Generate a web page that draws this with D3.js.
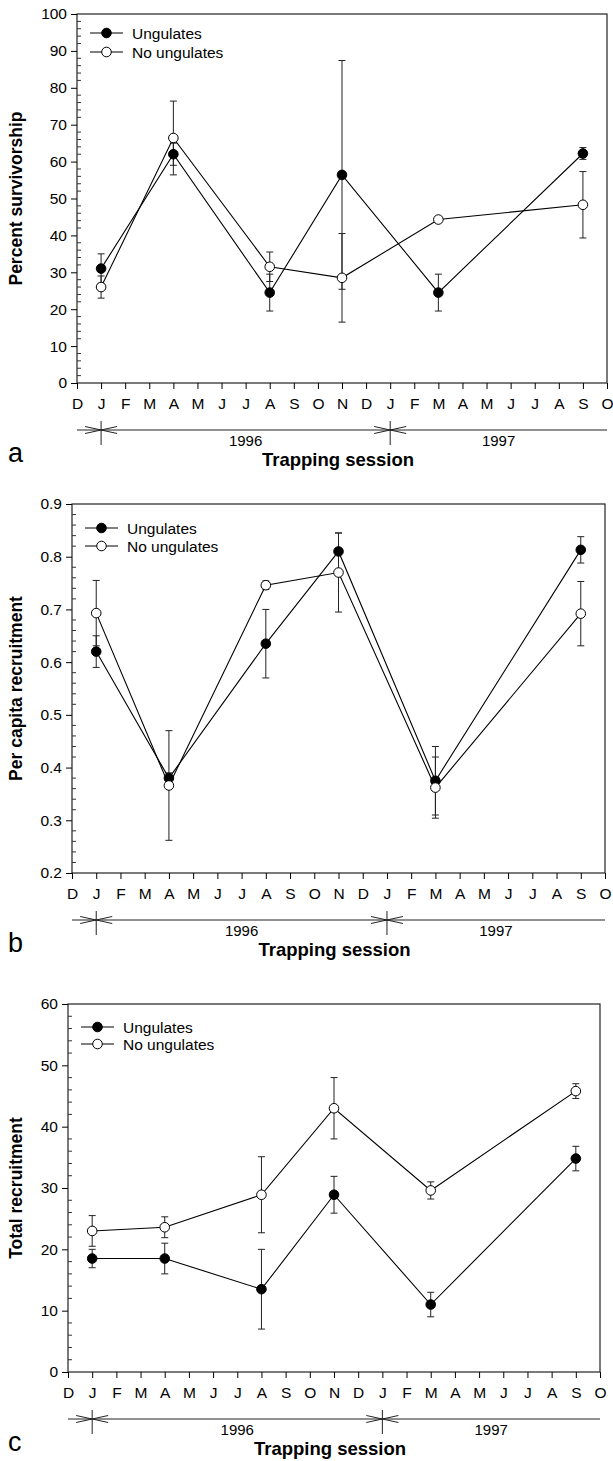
<!DOCTYPE html>
<html>
<head>
<meta charset="utf-8">
<script src="https://cdn.jsdelivr.net/npm/d3@7"></script>
<style>
  body { margin: 0; background: #fff; }
  svg { font-family: "Liberation Sans", Arial, sans-serif; }
</style>
</head>
<body>
<svg id="chart" width="613" height="1461"></svg>
<script>
// month ticks Dec 1995 .. Oct 1997
const months = ['D','J','F','M','A','M','J','J','A','S','O','N','D','J','F','M','A','M','J','J','A','S','O'];
// month index of each trapping session
const sessions = [1, 4, 8, 11, 15, 21];
const years = ['1996', '1997'];

// a: percent survivorship
const survUng = [31, 62, 24.5, 56.4, 24.5, 62.2];
const survUngErr = [4, 3, 5, 31, 5, 1.6];
const survNo = [26, 66.4, 31.5, 28.5, 44.3, 48.3];
const survNoErr = [3, 10, 4, 12, 0.5, 9];
const survTicks = [0, 10, 20, 30, 40, 50, 60, 70, 80, 90, 100];

// b: per capita recruitment
const percapUng = [0.62, 0.38, 0.635, 0.81, 0.375, 0.813];
const percapUngErr = [0.03, 0.01, 0.065, 0.035, 0.065, 0.025];
const percapNo = [0.693, 0.366, 0.746, 0.77, 0.362, 0.692];
const percapNoErr = [0.062, 0.104, 0.008, 0.075, 0.058, 0.061];
const percapTicks = [0.2, 0.3, 0.4, 0.5, 0.6, 0.7, 0.8, 0.9];

// c: total recruitment
const totalUng = [18.5, 18.5, 13.5, 28.9, 11, 34.8];
const totalUngErr = [1.5, 2.5, 6.5, 3, 2, 2];
const totalNo = [23, 23.6, 28.9, 43, 29.6, 45.8];
const totalNoErr = [2.5, 1.7, 6.2, 5, 1.4, 1.2];
const totalTicks = [0, 10, 20, 30, 40, 50, 60];

const svg = d3.select('#chart');

function drawPanel(p) {
  var x = d3.scaleLinear().domain([0, months.length - 1]).range([p.left, p.right]);
  var y = d3.scaleLinear().domain([p.ticks[0], p.ticks[p.ticks.length - 1]]).range([p.bottom, p.top]);
  var g = svg.append('g');

  // frame
  g.append('rect')
    .attr('x', p.left).attr('y', p.top)
    .attr('width', p.right - p.left).attr('height', p.bottom - p.top)
    .attr('fill', 'none').attr('stroke', '#222').attr('stroke-width', 1.2);

  // y axis, major ticks outward
  var yAxis = g.append('g')
    .attr('transform', 'translate(' + p.left + ',0)')
    .call(d3.axisLeft(y).tickValues(p.ticks).tickSize(6).tickPadding(4)
      .tickFormat(p.fmt).tickSizeOuter(0));
  yAxis.select('.domain').remove();
  yAxis.selectAll('text').style('font-size', '15.5px').attr('fill', '#000');

  // minor ticks inside
  var minor = [];
  for (var i = 0; i < p.ticks.length - 1; i++) {
    var step = (p.ticks[i + 1] - p.ticks[i]) / 5;
    for (var k = 1; k < 5; k++) minor.push(p.ticks[i] + step * k);
  }
  g.selectAll('line.minor').data(minor).join('line')
    .attr('class', 'minor')
    .attr('x1', p.left).attr('x2', p.left + 4)
    .attr('y1', d => y(d)).attr('y2', d => y(d))
    .attr('stroke', '#333');

  // x axis: month ticks
  var xAxis = g.append('g')
    .attr('transform', 'translate(0,' + p.bottom + ')')
    .call(d3.axisBottom(x).tickValues(d3.range(months.length)).tickSize(6).tickPadding(9)
      .tickFormat(i => months[i]).tickSizeOuter(0));
  xAxis.select('.domain').remove();
  xAxis.selectAll('text').style('font-size', '15.5px').attr('fill', '#000');

  // year bracket below the months
  var by = p.bottom + 47;
  var segs = [[0, 1], [1, 13], [13, months.length - 1]];
  segs.forEach(s => {
    g.append('line').attr('x1', x(s[0])).attr('x2', x(s[1]))
      .attr('y1', by).attr('y2', by).attr('stroke', '#222');
  });
  var heads = [[1, 1], [1, -1], [13, 1], [13, -1]];
  heads.forEach(h => {
    var tip = x(h[0]);
    g.append('path')
      .attr('d', 'M' + (tip - 16 * h[1]) + ',' + (by - 3.5) + 'L' + tip + ',' + by + 'L' + (tip - 16 * h[1]) + ',' + (by + 3.5))
      .attr('fill', 'none').attr('stroke', '#222');
  });
  [1, 13].forEach(m => {
    g.append('line').attr('x1', x(m)).attr('x2', x(m))
      .attr('y1', by - 9).attr('y2', by + 15).attr('stroke', '#222');
  });
  g.selectAll('text.year').data(years).join('text')
    .attr('class', 'year')
    .attr('x', (d, i) => (x(segs[i + 1][0]) + x(segs[i + 1][1])) / 2)
    .attr('y', by + 16)
    .attr('text-anchor', 'middle')
    .style('font-size', '15px')
    .text(d => d);

  // axis titles
  g.append('text')
    .attr('x', (p.left + p.right) / 2 - 4).attr('y', p.bottom + 83)
    .attr('text-anchor', 'middle')
    .style('font-size', '18.5px').style('font-weight', 'bold')
    .text('Trapping session');
  g.append('text')
    .attr('transform', 'translate(' + p.titleX + ',' + (p.top + p.bottom) / 2 + ') rotate(-90)')
    .attr('text-anchor', 'middle')
    .style('font-size', '17.5px').style('font-weight', 'bold')
    .text(p.title);
  g.append('text')
    .attr('x', 8).attr('y', p.bottom + 79)
    .style('font-size', '27px')
    .text(p.letter);

  var series = [
    { vals: p.ung, err: p.ungErr, fill: '#000' },
    { vals: p.no, err: p.noErr, fill: '#fff' }
  ];

  // error bars
  series.forEach(s => {
    var eg = g.append('g').attr('stroke', '#222');
    s.vals.forEach((v, i) => {
      var cx = x(sessions[i]);
      var lo = y(v - s.err[i]), hi = y(v + s.err[i]);
      eg.append('line').attr('x1', cx).attr('x2', cx).attr('y1', lo).attr('y2', hi);
      eg.append('line').attr('x1', cx - 3.5).attr('x2', cx + 3.5).attr('y1', lo).attr('y2', lo);
      eg.append('line').attr('x1', cx - 3.5).attr('x2', cx + 3.5).attr('y1', hi).attr('y2', hi);
    });
  });

  var line = d3.line().x((d, i) => x(sessions[i])).y(d => y(d));
  series.forEach(s => {
    g.append('path').datum(s.vals).attr('d', line)
      .attr('fill', 'none').attr('stroke', '#000').attr('stroke-width', 1.1);
  });
  series.forEach(s => {
    g.selectAll(null).data(s.vals).join('circle')
      .attr('cx', (d, i) => x(sessions[i])).attr('cy', d => y(d))
      .attr('r', 4.8)
      .attr('fill', s.fill).attr('stroke', '#000').attr('stroke-width', 1);
  });

  // legend
  var labels = ['Ungulates', 'No ungulates'];
  labels.forEach((t, i) => {
    var ly = p.top + p.legendY[i];
    g.append('line').attr('x1', p.left + 13).attr('x2', p.left + 46)
      .attr('y1', ly).attr('y2', ly).attr('stroke', '#000');
    g.append('circle').attr('cx', p.left + 29.5).attr('cy', ly).attr('r', 4.8)
      .attr('fill', series[i].fill).attr('stroke', '#000');
    g.append('text').attr('x', p.left + 55).attr('y', ly + 5.5)
      .style('font-size', '15.5px').text(t);
  });
}

drawPanel({ left: 77, right: 607, top: 14, bottom: 383, ticks: survTicks, fmt: d3.format('d'),
  ung: survUng, ungErr: survUngErr, no: survNo, noErr: survNoErr,
  title: 'Percent survivorship', titleX: 22, letter: 'a', legendY: [19, 38] });

drawPanel({ left: 72, right: 605, top: 504, bottom: 873, ticks: percapTicks, fmt: d3.format('.1f'),
  ung: percapUng, ungErr: percapUngErr, no: percapNo, noErr: percapNoErr,
  title: 'Per capita recruitment', titleX: 22, letter: 'b', legendY: [24, 42] });

drawPanel({ left: 68, right: 600, top: 1004, bottom: 1372, ticks: totalTicks, fmt: d3.format('d'),
  ung: totalUng, ungErr: totalUngErr, no: totalNo, noErr: totalNoErr,
  title: 'Total recruitment', titleX: 22, letter: 'c', legendY: [23, 40] });
</script>
</body>
</html>
